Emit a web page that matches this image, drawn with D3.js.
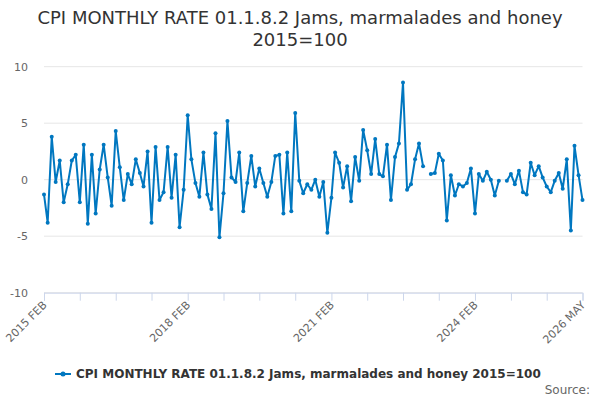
<!DOCTYPE html>
<meta charset="utf-8">
<script src="https://d3js.org/d3.v7.min.js"></script>
<style>
  body { margin: 0; background: #fff; }
  text { font-family: "DejaVu Sans", sans-serif; }
</style>
<div id="chart"></div>
<script>
    // chart text
    const titleLines = ["CPI MONTHLY RATE 01.1.8.2 Jams, marmalades and honey", "2015=100"];
    const seriesName = "CPI MONTHLY RATE 01.1.8.2 Jams, marmalades and honey 2015=100";

    // monthly values, 2015 FEB .. 2026 MAY (null = no data)
    const firstMonth = "2015-02";
    const values = [
        -1.3, -3.8, 3.8, -0.2, 1.7, -2.0, -0.4, 1.7, 2.2, -2.0, 3.1, -3.9,
        2.2, -3.0, 0.9, 3.1, 0.2, -2.3, 4.3, 1.1, -1.8, 0.5, -0.4, 1.8,
        0.6, -0.6, 2.5, -3.8, 2.9, -1.8, -1.1, 2.9, -1.6, 2.2, -4.2, -0.9,
        5.7, 1.8, -0.3, -1.5, 2.4, -1.3, -2.6, 4.1, -5.1, -1.2, 5.2, 0.2,
        -0.2, 2.4, -2.8, -0.3, 2.1, -0.6, 1.0, -0.3, -1.5, -0.2, 2.1, 2.2,
        -3.0, 2.4, -2.8, 5.9, -0.1, -1.2, -0.4, -0.9, 0.0, -1.5, -0.2, -4.7,
        -1.6, 2.4, 1.5, -0.7, 1.2, -1.9, 2.0, -0.1, 4.4, 2.6, 0.5, 3.6,
        0.5, 0.3, 3.1, -1.8, 2.0, 3.2, 8.6, -0.9, -0.4, 1.8, 3.2, 1.2,
        null, 0.5, 0.6, 2.3, 1.7, -3.6, 0.4, -1.4, -0.4, -0.6, -0.3, 1.0,
        -3.0, 0.5, -0.1, 0.7, 0.0, -1.4, -0.1, null, -0.1, 0.5, -0.4, 0.8,
        -1.1, -1.3, 1.5, 0.4, 1.2, 0.2, -0.6, -1.1, -0.1, 0.6, -0.8, 1.8,
        -4.5, 3.0, 0.4, -1.8
    ];

    // axis ticks
    const yTicks = [-10, -5, 0, 5, 10];
    const xTickEvery = 9;   // months between tick marks
    const xLabels = ["2015 FEB", "2018 FEB", "2021 FEB", "2024 FEB", "2026 MAY"];

    const W = 600, H = 400;
    const margin = { top: 66.7, right: 17.5, bottom: 107.3, left: 44 };
    const width = W - margin.left - margin.right,
        height = H - margin.top - margin.bottom;

    const parseMonth = d3.timeParse("%Y-%m");
    const start = parseMonth(firstMonth);
    const data = values.map(function (v, i) {
        return { date: d3.timeMonth.offset(start, i), value: v };
    });
    const fmt = d3.timeFormat("%Y %b");

    const svg = d3.select("#chart")
        .append("svg")
        .attr("width", W)
        .attr("height", H);

    // title
    svg.append("text")
        .attr("x", W / 2)
        .attr("text-anchor", "middle")
        .attr("fill", "#333333")
        .style("font-size", "18px")
        .selectAll("tspan")
        .data(titleLines)
        .join("tspan")
        .attr("x", W / 2)
        .attr("y", function (d, i) { return 24 + i * 22; })
        .text(function (d) { return d; });

    const g = svg.append("g")
        .attr("transform", `translate(${margin.left}, ${margin.top})`);

    const x = d3.scaleTime()
        .domain(d3.extent(data, function (d) { return d.date; }))
        .range([0, width]);

    const y = d3.scaleLinear()
        .domain([-10, 10])
        .range([height, 0]);

    // gridlines
    g.append("g")
        .selectAll("line")
        .data(yTicks)
        .join("line")
        .attr("x1", 0)
        .attr("x2", width)
        .attr("y1", function (d) { return y(d); })
        .attr("y2", function (d) { return y(d); })
        .attr("stroke", "#e6e6e6")
        .attr("stroke-width", 1);

    // y axis labels
    g.append("g")
        .selectAll("text")
        .data(yTicks)
        .join("text")
        .attr("x", -16)
        .attr("y", function (d) { return y(d); })
        .attr("dy", "0.35em")
        .attr("text-anchor", "end")
        .attr("fill", "#666666")
        .style("font-size", "11px")
        .text(function (d) { return d; });

    // x axis
    const tickDates = d3.range(0, values.length, xTickEvery).map(function (i) { return data[i].date; });
    const xAxis = g.append("g")
        .attr("transform", `translate(0, ${height})`)
        .call(d3.axisBottom(x)
            .tickValues(tickDates)
            .tickSize(8)
            .tickFormat(function (d) {
                const s = fmt(d).toUpperCase();
                return xLabels.indexOf(s) >= 0 ? s : "";
            }));
    xAxis.select(".domain").attr("stroke", "#ccd6eb");
    xAxis.selectAll(".tick line").attr("stroke", "#ccd6eb");
    xAxis.selectAll(".tick text")
        .attr("fill", "#666666")
        .style("font-size", "11px")
        .style("font-family", "DejaVu Sans, sans-serif")
        .attr("text-anchor", "end")
        .attr("x", 0)
        .attr("y", 0)
        .attr("dy", 0)
        .attr("transform", "translate(3, 13) rotate(-45)");

    // series line
    const color = "#0077c0";
    const line = d3.line()
        .defined(function (d) { return d.value !== null; })
        .x(function (d) { return x(d.date); })
        .y(function (d) { return y(d.value); });

    g.append("path")
        .datum(data)
        .attr("fill", "none")
        .attr("stroke", color)
        .attr("stroke-width", 2)
        .attr("stroke-linejoin", "round")
        .attr("d", line);

    g.append("g")
        .selectAll("circle")
        .data(data.filter(function (d) { return d.value !== null; }))
        .join("circle")
        .attr("cx", function (d) { return x(d.date); })
        .attr("cy", function (d) { return y(d.value); })
        .attr("r", 2)
        .attr("fill", color);

    // legend
    const legend = svg.append("g").attr("transform", "translate(55, 374)");
    legend.append("line")
        .attr("x1", 0).attr("x2", 16)
        .attr("stroke", color).attr("stroke-width", 2);
    legend.append("circle")
        .attr("cx", 8).attr("r", 2.5).attr("fill", color);
    legend.append("text")
        .attr("x", 21)
        .attr("dy", "0.35em")
        .attr("fill", "#333333")
        .style("font-size", "12px")
        .style("font-weight", "bold")
        .text(seriesName);

    // credits
    svg.append("text")
        .attr("x", 590)
        .attr("y", 394)
        .attr("text-anchor", "end")
        .attr("fill", "#666666")
        .style("font-size", "12px")
        .text("Source:");
</script>
